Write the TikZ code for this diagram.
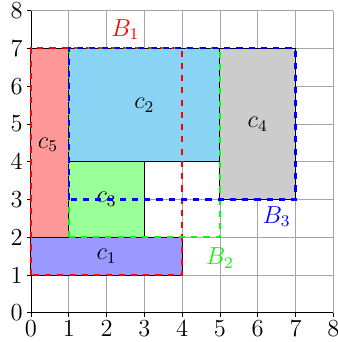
\documentclass[tikz,border=0pt]{standalone}
\usepackage{xcolor}
\usepackage{tikz}
\usetikzlibrary{positioning}
\definecolor{fillone}{RGB}{153,153,255}
\definecolor{filltwo}{RGB}{137,212,245}
\definecolor{fillthree}{RGB}{153,255,153}
\definecolor{fillfour}{RGB}{204,204,204}
\definecolor{fillfive}{RGB}{255,153,153}
\tikzset{
  cell/.style={draw=black, line width=0.5pt},
  binbox/.style={dashed, line width=1.1pt},
  binlabel/.style={font=\large},
  ticklab/.style={font=\large, inner sep=2pt}
}

\begin{document}
\begin{tikzpicture}[scale=0.65]
\useasboundingbox (-0.82,-0.77) rectangle (8.1,8.28);
% grid and axes
\draw[gray!70, thin] (0,0) grid (8,8);
\draw[black, thin] (0,0) -- (8,0);
\draw[black, thin] (0,0) -- (0,8);
\foreach \i in {0,...,8} {
  \draw[black, thin] (\i,0) -- (\i,-0.1);
  \draw[black, thin] (0,\i) -- (-0.1,\i);
  \node[ticklab, below] (xl\i) at (\i,-0.1) {$\i$};
  \node[ticklab, left] (yl\i) at (-0.1,\i) {$\i$};
}
% items
\filldraw[cell, fill=fillone] (0,1) rectangle (4,2);
\filldraw[cell, fill=filltwo] (1,4) rectangle (5,7);
\filldraw[cell, fill=fillthree] (1,2) rectangle (3,4);
\filldraw[cell, fill=fillfour] (5,3) rectangle (7,7);
\filldraw[cell, fill=fillfive] (0,2) rectangle (1,7);
\node[binlabel] (c1) at (2,1.5) {$c_1$};
\node[binlabel] (c2) at (3,5.5) {$c_2$};
\node[binlabel] (c3) at (2,3) {$c_3$};
\node[binlabel] (c4) at (6,5) {$c_4$};
\node[binlabel] (c5) at (0.45,4.45) {$c_5$};
% bins
\draw[binbox, red] (0,1) rectangle (4,7);
\draw[binbox, green] (1,2) rectangle (5,7);
\draw[binbox, blue] (1,3) rectangle (7,7);
\node[binlabel, red] (b1) at (2.5,7.5) {$B_1$};
\node[binlabel, green] (b2) at (5,1.45) {$B_2$};
\node[binlabel, blue] (b3) at (6.5,2.55) {$B_3$};
\end{tikzpicture}
\end{document}
